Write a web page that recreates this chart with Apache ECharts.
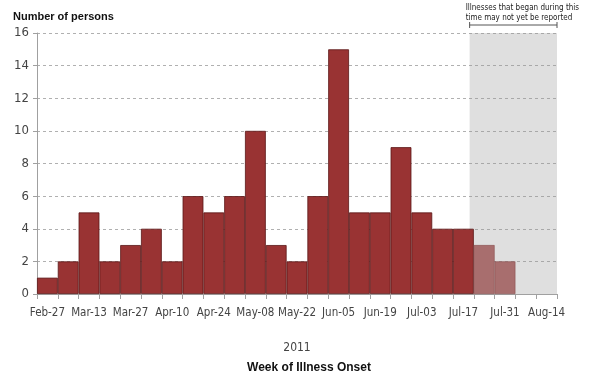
<!DOCTYPE html>
<html><head><meta charset="utf-8">
<script src="https://cdn.jsdelivr.net/npm/echarts@6/dist/echarts.min.js"></script>
<style>html,body{margin:0;padding:0;background:#fff}#c{width:600px;height:385px}</style>
</head><body><div id="c"></div>
<script>
const categories = ['Feb-27','Mar-06','Mar-13','Mar-20','Mar-27','Apr-03','Apr-10','Apr-17','Apr-24','May-01','May-08','May-15','May-22','May-29','Jun-05','Jun-12','Jun-19','Jun-26','Jul-03','Jul-10','Jul-17','Jul-24','Jul-31','Aug-07','Aug-14'];
const reported = [1,2,5,2,3,4,2,6,5,6,10,3,2,6,15,5,5,9,5,4,4,null,null,null,null];
const pending  = [null,null,null,null,null,null,null,null,null,null,null,null,null,null,null,null,null,null,null,null,null,3,2,null,null];
const yTicks = [0,2,4,6,8,10,12,14,16];
const shadeStart = 20.8, shadeEnd = 25; // position in weeks along the axis
const narrow = '"DejaVu Sans Condensed","Liberation Sans Narrow","Arial Narrow",sans-serif';

const chart = echarts.init(document.getElementById('c'), null, {renderer:'canvas'});
chart.setOption({
  animation:false,
  grid:{left:37,right:43,top:33,bottom:91},
  xAxis:[{
    type:'category', data:categories, boundaryGap:true,
    axisLine:{lineStyle:{color:'#a0a0a0',width:1}},
    axisTick:{show:true,interval:0,length:5,lineStyle:{color:'#a0a0a0'}},
    axisLabel:{interval:1,margin:13,color:'#444',fontSize:11.5,fontFamily:narrow},
    name:'2011',nameLocation:'middle',nameGap:48,
    nameTextStyle:{color:'#444',fontSize:12,fontFamily:narrow}
  },{
    type:'value',min:0,max:25,show:false
  }],
  yAxis:{
    type:'value',min:yTicks[0],max:yTicks[yTicks.length-1],interval:2,
    axisLine:{show:true,lineStyle:{color:'#a0a0a0'}},
    axisTick:{show:true,length:4,lineStyle:{color:'#a0a0a0'}},
    axisLabel:{color:'#444',fontSize:13,fontFamily:narrow,margin:8},
    splitLine:{lineStyle:{type:[3,3],color:'#b0b0b0'}}
  },
  title:[{
    text:'Number of persons',left:8,top:6,
    textStyle:{fontSize:11,fontWeight:'bold',color:'#111',fontFamily:'"Liberation Sans",Arial,sans-serif'}
  },{
    text:'Week of Illness Onset',left:304,textAlign:'center',top:357,
    textStyle:{fontSize:12,fontWeight:'bold',color:'#111',fontFamily:'"Liberation Sans",Arial,sans-serif'}
  }],
  series:[{
    type:'line',xAxisIndex:1,data:[],silent:true,z:0,
    markArea:{silent:true,itemStyle:{color:'rgba(150,150,150,0.3)'},data:[[{xAxis:shadeStart},{xAxis:shadeEnd}]]}
  },{
    type:'bar',data:reported,barWidth:'100%',barGap:'-100%',z:2,
    itemStyle:{color:'#993333',borderColor:'#5a1616',borderWidth:0.8}
  },{
    type:'bar',data:pending,barWidth:'100%',barGap:'-100%',z:2,
    itemStyle:{color:'#a86e6e',borderColor:'#8a5050',borderWidth:0.6}
  }]
});

// annotation bracket above the shaded period
const p0 = chart.convertToPixel({xAxisIndex:1}, shadeStart);
const p1 = chart.convertToPixel({xAxisIndex:1}, shadeEnd);
const yTop = chart.convertToPixel({yAxisIndex:0}, 16);
const by = yTop - 8;
chart.setOption({
  graphic:[
    {type:'line',shape:{x1:p0,y1:by,x2:p1,y2:by},style:{stroke:'#555',lineWidth:1}},
    {type:'line',shape:{x1:p0,y1:by-3,x2:p0,y2:by+3},style:{stroke:'#555',lineWidth:1}},
    {type:'line',shape:{x1:p1,y1:by-3,x2:p1,y2:by+3},style:{stroke:'#555',lineWidth:1}},
    {type:'text',x:p0-4,y:3,style:{text:'Illnesses that began during this\ntime may not yet be reported',fill:'#222',fontSize:8,lineHeight:10,fontFamily:narrow}}
  ]
});
</script></body></html>
